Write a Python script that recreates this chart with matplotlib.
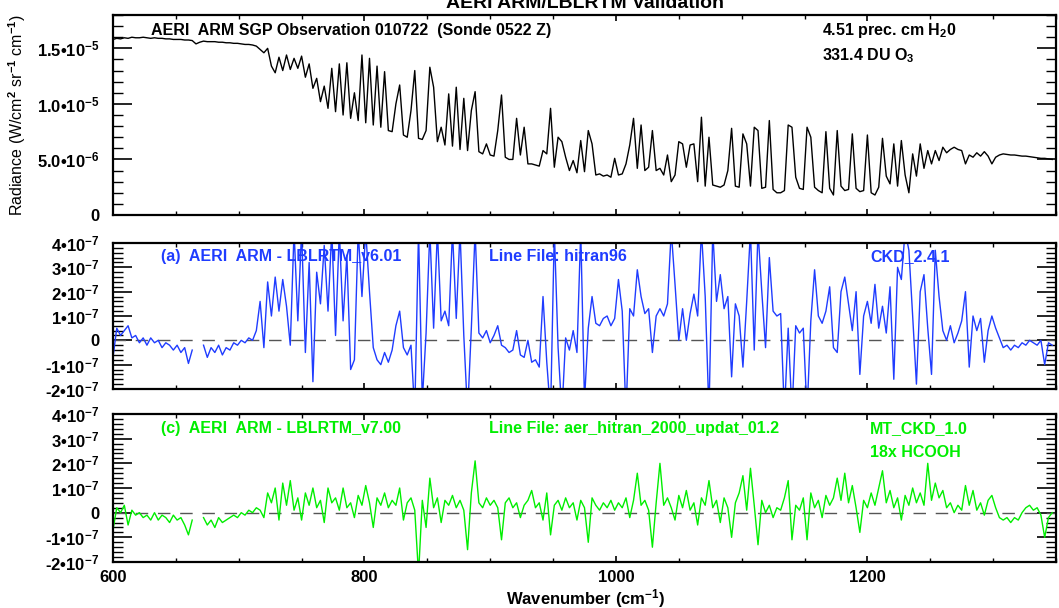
import numpy as np
import matplotlib
matplotlib.use('Agg')
import matplotlib.pyplot as plt
from matplotlib.ticker import MultipleLocator

plt.rcParams['font.family'] = ['Liberation Sans', 'DejaVu Sans']
plt.rcParams['font.weight'] = 'bold'
plt.rcParams['mathtext.fontset'] = 'custom'
plt.rcParams['mathtext.rm'] = 'Liberation Sans:bold'
plt.rcParams['mathtext.it'] = 'Liberation Sans:bold'
plt.rcParams['mathtext.bf'] = 'Liberation Sans:bold'
plt.rcParams['mathtext.default'] = 'rm'

# wavenumber grid (cm-1), 3 cm-1 sampling
wn = np.arange(600, 1350, 3)

# AERI observed radiance, units of 1e-6 W/(cm2 sr cm-1)
radiance = np.array([
    15.8, 15.9, 15.85, 15.95, 15.9, 16.0, 15.95, 15.95, 16.0, 15.95,
    15.9, 15.95, 15.9, 15.9, 15.85, 15.85, 15.8, 15.8, 15.8, 15.75,
    15.75, 15.7, 15.4, 15.55, 15.65, 15.6, 15.6, 15.6, 15.55, 15.55,
    15.5, 15.5, 15.45, 15.45, 15.4, 15.35, 15.35, 15.3, 15.2, 14.9,
    14.6, 15.0, 13.4, 12.8, 14.2, 13.0, 14.4, 13.1, 14.1, 13.2,
    14.3, 12.4, 13.6, 11.4, 12.3, 10.2, 11.6, 9.6, 13.2, 9.3,
    13.6, 9.0, 13.7, 8.7, 11.0, 8.5, 14.4, 8.3, 14.1, 8.1,
    13.4, 7.9, 12.9, 7.6, 7.5, 10.0, 11.7, 7.2, 7.0, 9.4,
    13.0, 6.9, 6.8, 7.6, 13.3, 11.5, 6.6, 7.9, 6.3, 10.9,
    6.2, 11.5, 5.9, 10.5, 5.8, 9.4, 11.1, 5.7, 5.5, 6.4,
    5.4, 5.3, 7.6, 10.8, 5.2, 5.0, 5.0, 8.7, 5.4, 7.9,
    4.6, 4.6, 4.5, 4.4, 5.8, 5.5, 9.6, 4.3, 7.0, 6.6,
    5.2, 4.0, 4.9, 3.8, 6.7, 3.9, 7.6, 6.4, 3.6, 3.7,
    3.5, 3.6, 3.4, 5.1, 3.6, 3.7, 4.6, 6.3, 8.7, 4.2,
    8.1, 4.0, 4.3, 7.6, 4.0, 4.2, 3.6, 5.4, 3.0, 3.6,
    6.6, 6.4, 4.3, 6.3, 6.4, 3.0, 8.8, 2.6, 7.0, 2.7,
    2.6, 2.5, 2.7, 4.0, 7.8, 2.6, 2.5, 7.3, 6.4, 2.6,
    7.9, 7.6, 2.4, 2.5, 8.5, 2.3, 2.0, 2.0, 2.2, 8.1,
    7.9, 3.4, 2.4, 2.3, 7.9, 7.0, 2.5, 2.2, 2.0, 7.5,
    2.4, 1.8, 7.6, 2.6, 2.2, 2.3, 7.3, 2.4, 2.1, 2.2,
    7.2, 2.0, 1.8, 2.5, 6.9, 3.5, 2.8, 6.4, 2.6, 6.7,
    3.6, 2.0, 5.5, 3.5, 6.4, 4.2, 5.8, 4.6, 5.8, 4.9,
    6.1, 5.6, 5.9, 6.1, 5.9, 5.8, 4.6, 5.4, 5.2, 5.6,
    5.3, 5.7, 5.3, 4.6, 5.2, 5.4, 5.5, 5.45, 5.4, 5.4,
    5.35, 5.3, 5.3, 5.25, 5.2, 5.15, 5.1, 5.1, 5.05, 5.0,
])

# AERI - LBLRTM v6.01 residual, units of 1e-7 (nan = gap)
resid_v6 = np.array([
    -0.7, 0.5, 0.2, 0.4, 0.6, 0.1, 0.2, -0.1, 0.1, -0.2,
    0.1, -0.1, 0.0, -0.3, -0.1, -0.2, -0.4, -0.2, -0.5, -0.3,
    -0.95, -0.4, np.nan, np.nan, -0.2, -0.7, -0.3, -0.5, -0.2, -0.6,
    -0.3, -0.4, -0.1, -0.2, 0.0, -0.1, 0.1, 0.0, 0.4, 1.6,
    -0.3, 2.4, 1.0, 2.6, 1.2, 2.5, 1.4, -0.2, 4.5, 0.8,
    4.5, -0.5, 3.2, -1.7, 2.8, 1.5, 3.9, 1.2, 4.5, 0.2,
    4.5, 0.8, 3.5, -1.2, -0.8, 4.5, 1.8, 4.5, 2.0, -0.3,
    -0.8, -1.0, -0.5, -0.9, -0.4, 0.6, 1.2, -0.3, -0.6, -0.2,
    -3.0, 4.5, -2.5, 0.3, 4.5, 0.5, 4.5, 0.8, 1.2, 0.6,
    4.5, 0.9, 4.5, 0.2, -3.0, 0.5, 4.5, 0.3, 0.1, 0.4,
    -0.1, 0.2, 0.6, -0.2, -0.3, -0.5, -0.4, 0.4, -0.6, -0.7,
    0.0, -0.9, -0.8, -1.1, 1.8, -0.9, -3.0, 4.5, -0.3, -3.0,
    0.1, -0.4, 0.4, -0.5, 4.5, -2.5, 0.5, 1.8, 0.7, 0.6,
    0.9, 1.0, 0.6, 0.9, 2.5, 1.2, -3.0, 1.3, 1.0, 2.9,
    1.8, 1.1, 1.3, -0.5, 1.0, 1.3, 1.0, 1.5, 4.5, 2.3,
    0.0, 1.3, 0.0, 1.1, 1.9, 1.0, 4.5, 1.8, -3.0, 4.5,
    1.6, 2.7, 1.3, 1.8, -1.5, 1.5, 1.0, -1.1, 1.6, 4.5,
    -0.4, 4.5, 2.0, -0.3, 3.4, 1.2, 1.0, 1.1, -3.0, 0.5,
    -3.0, 0.6, 0.3, 0.5, -3.0, 0.8, 2.9, 1.0, 0.7, 1.2,
    2.2, -0.3, -0.5, 2.0, 2.6, 1.5, 0.4, 2.0, -1.4, 1.0,
    1.6, 0.7, 2.3, 0.5, 1.4, 0.3, 2.2, -1.6, 3.0, 2.5,
    4.5, 3.7, 1.0, -1.8, 2.0, 2.7, 0.5, -1.4, 3.7, 1.8,
    0.4, 0.0, 0.6, -0.1, 0.3, 0.8, 2.0, -1.1, 1.0, 0.4,
    0.9, -0.9, 0.4, 1.0, 0.5, 0.1, -0.3, -0.2, -0.4, -0.2,
    -0.3, -0.1, -0.2, 0.0, -0.1, -0.2, 0.0, -1.0, -0.1, -0.2,
])

# AERI - LBLRTM v7.00 residual, units of 1e-7 (nan = gap)
resid_v7 = np.array([
    -0.7, 0.2, 0.0, 0.3, -0.5, 0.1, -0.1, 0.0, -0.2, -0.1,
    -0.3, 0.0, -0.3, -0.1, -0.2, -0.4, -0.1, -0.3, -0.2, -0.5,
    -0.9, -0.3, np.nan, np.nan, -0.2, -0.5, -0.3, -0.6, -0.2, -0.4,
    -0.3, -0.2, -0.1, -0.2, 0.0, -0.1, 0.1, 0.0, 0.2, 0.1,
    -0.2, 0.8, 0.4, 1.0, -0.3, 1.2, 0.3, 1.3, 0.1, 0.6,
    -0.3, 0.8, 0.3, 1.0, 0.2, 0.5, -0.4, 1.0, 0.4, 0.6,
    0.1, 1.0, 0.2, 0.4, -0.2, 0.7, 0.3, 1.1, 0.4, -0.6,
    0.6, 0.3, 0.8, 0.2, 0.5, 0.3, 1.0, -0.3, 0.4, 0.6,
    0.1, -2.5, 0.5, -0.6, 1.4, 0.2, 0.6, -0.4, 0.5, 0.3,
    0.7, 0.2, 0.5, 0.1, -1.5, 0.8, 2.1, 0.4, 0.2, 0.6,
    0.3, 0.5, 0.2, -1.1, 0.4, 0.6, 0.2, 0.4, -0.2, 0.3,
    0.5, 0.9, 0.2, 0.4, -0.3, 0.8, -0.9, 0.3, 0.5, 0.1,
    0.6, 0.2, 0.4, -0.3, 0.5, 0.2, -1.2, 0.6, 0.3, 0.1,
    0.4, 0.2, 0.5, 0.1, 0.4, 0.2, 0.6, -0.2, 0.5, 1.6,
    0.3, 0.5, 0.1, -1.4, 0.4, 2.0, 0.3, 0.6, 0.2, -0.3,
    0.7, 0.2, 0.9, 0.1, 0.4, -0.5, 0.6, 0.3, 1.3, 0.2,
    0.5, -0.4, 0.6, 0.2, -1.0, 0.4, 0.8, 1.5, 0.1, 1.8,
    0.3, -1.3, 0.5, 0.0, 0.3, -0.2, 0.2, 0.1, 0.6, 1.3,
    -1.1, 0.3, 0.1, 0.6, -1.1, 0.8, 0.2, 0.5, -0.2, 0.7,
    0.3, 0.6, 1.4, 0.5, 1.6, 0.4, 1.1, 0.2, -0.8, 0.5,
    0.2, 0.8, 0.3, 1.0, 1.7, 0.4, 0.9, 0.2, 0.6, -0.3,
    0.7, 0.3, 1.0, 0.4, 0.8, 0.3, 2.0, 0.5, 1.2, 0.6,
    0.9, 0.2, 0.4, 0.0, 0.3, 0.1, 1.1, 0.3, 0.9, 0.1,
    0.4, -0.1, 0.5, 0.7, 0.2, -0.2, -0.3, -0.2, -0.4, -0.2,
    -0.3, 0.0, 0.2, 0.3, 0.1, 0.2, -0.1, -1.0, -0.2, 0.0,
])

rad_ticks = [0, 5, 10, 15]
rad_labels = ['0', '5.0\u202210$^{-6}$', '1.0\u202210$^{-5}$', '1.5\u202210$^{-5}$']
res_ticks = [-2, -1, 0, 1, 2, 3, 4]
res_labels = ['-2\u202210$^{-7}$', '-1\u202210$^{-7}$', '0', '1\u202210$^{-7}$',
              '2\u202210$^{-7}$', '3\u202210$^{-7}$', '4\u202210$^{-7}$']

BLUE = '#1f3cff'
GREEN = '#00ee00'
W, H = 1059, 608

fig = plt.figure(figsize=(W / 100, H / 100), dpi=100)


def px_axes(left, top, right, bottom):
    return fig.add_axes([left / W, 1 - bottom / H, (right - left) / W, (bottom - top) / H])


def style(ax, minor_y):
    ax.set_xlim(600, 1350)
    ax.xaxis.set_major_locator(MultipleLocator(200))
    ax.xaxis.set_minor_locator(MultipleLocator(50))
    ax.yaxis.set_minor_locator(MultipleLocator(minor_y))
    ax.tick_params(axis='x', which='major', direction='in', length=4, width=1.2,
                   top=True, bottom=True, labelsize=12, pad=6)
    ax.tick_params(axis='x', which='minor', direction='in', length=3, width=1.0,
                   top=True, bottom=True)
    ax.tick_params(axis='y', which='major', direction='in', length=14, width=1.2,
                   left=True, right=True, labelsize=12, pad=10)
    ax.tick_params(axis='y', which='minor', direction='in', length=7, width=1.0,
                   left=True, right=True)
    for sp in ax.spines.values():
        sp.set_linewidth(1.6)


ax1 = px_axes(113, 15, 1056, 215)
ax1.plot(wn, radiance, color='black', lw=1.0)
ax1.set_ylim(0, 18)
ax1.set_yticks(rad_ticks)
ax1.set_yticklabels(rad_labels)
style(ax1, 1)
ax1.set_xticklabels([])
ax1.set_ylabel('Radiance (W/cm$^{2}$ sr$^{-1}$ cm$^{-1}$)', fontsize=11.5, labelpad=6)

ax2 = px_axes(113, 243, 1056, 389)
ax2.axhline(0, color='#555555', lw=1, ls=(0, (9, 7)))
ax2.plot(wn, resid_v6, color=BLUE, lw=1.0)
ax2.set_ylim(-2, 4)
ax2.set_yticks(res_ticks)
ax2.set_yticklabels(res_labels)
style(ax2, 0.2)
ax2.set_xticklabels([])

ax3 = px_axes(113, 414, 1056, 562)
ax3.axhline(0, color='#555555', lw=1, ls=(0, (9, 7)))
ax3.plot(wn, resid_v7, color=GREEN, lw=1.0)
ax3.set_ylim(-2, 4)
ax3.set_yticks(res_ticks)
ax3.set_yticklabels(res_labels)
style(ax3, 0.2)


def ftext(x, y, s, **kw):
    fig.text(x / W, 1 - y / H, s, va='baseline', ha=kw.pop('ha', 'left'),
             fontweight='bold', **kw)


# title sits partly above the figure edge, as in the original
ftext(585, 8, 'AERI ARM/LBLRTM Validation', ha='center', fontsize=14)
ftext(151, 35, 'AERI  ARM SGP Observation 010722  (Sonde 0522 Z)', fontsize=11.5)
ftext(822, 35, '4.51 prec. cm H$_2$0', fontsize=11.5)
ftext(822, 60, '331.4 DU O$_3$', fontsize=11.5)

ftext(161, 261, '(a)  AERI  ARM - LBLRTM_v6.01', fontsize=11.5, color=BLUE)
ftext(489, 261, 'Line File: hitran96', fontsize=11.5, color=BLUE)
ftext(870, 261, 'CKD_2.4.1', fontsize=11.5, color=BLUE)

ftext(161, 433, '(c)  AERI  ARM - LBLRTM_v7.00', fontsize=11.5, color=GREEN)
ftext(489, 433, 'Line File: aer_hitran_2000_updat_01.2', fontsize=11.5, color=GREEN)
ftext(870, 433, 'MT_CKD_1.0', fontsize=11.5, color=GREEN)
ftext(870, 457, '18x HCOOH', fontsize=11.5, color=GREEN)

ftext(586, 604, 'Wavenumber (cm$^{-1}$)', ha='center', fontsize=12)

fig.savefig('out.png', dpi=100)
